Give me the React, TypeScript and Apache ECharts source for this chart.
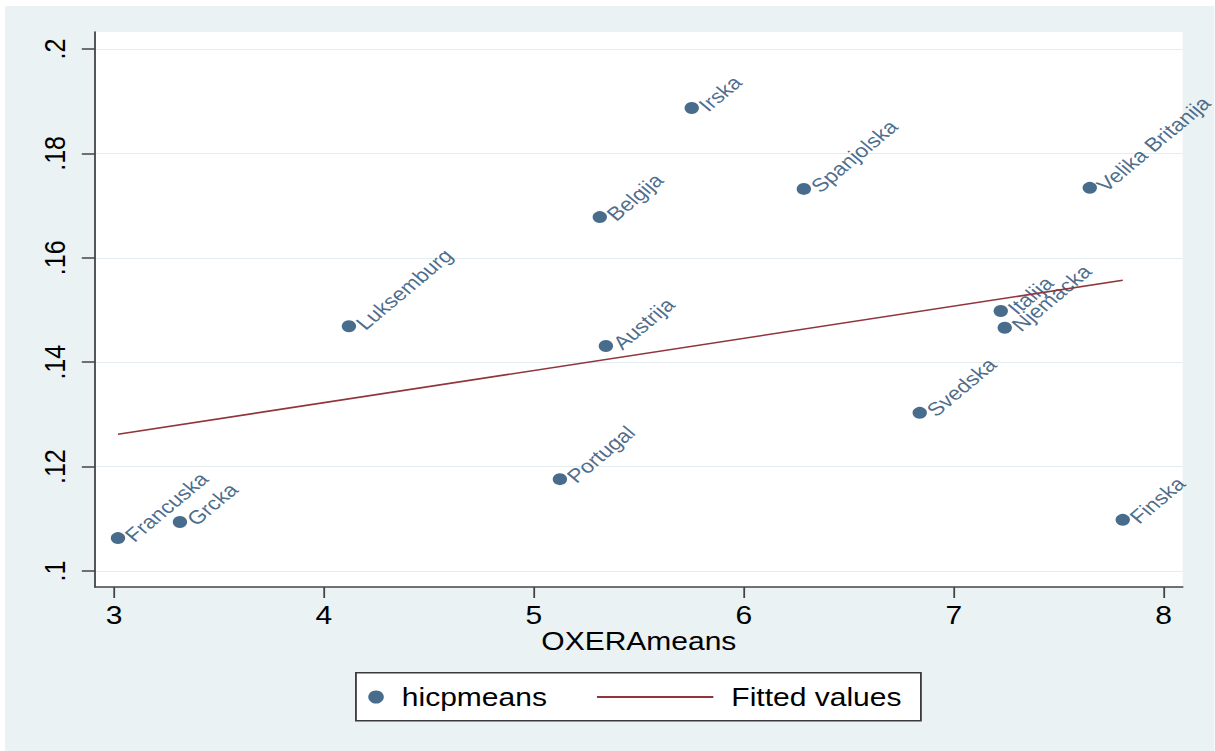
import React, { useEffect, useRef } from "react";
import * as echarts from "echarts";

const countries = [
  "Francuska", "Grcka", "Luksemburg", "Portugal", "Belgija", "Austrija", "Irska",
  "Spanjolska", "Svedska", "Italija", "Njemacka", "Velika Britanija", "Finska",
];
const oxeraMeans = [3.019, 3.314, 4.119, 5.124, 5.314, 5.343, 5.752, 6.286, 6.838, 7.224, 7.243, 7.648, 7.805];
const hicpMeans = [0.1063, 0.1094, 0.1469, 0.1176, 0.1678, 0.1431, 0.1887, 0.1732, 0.1303, 0.1498, 0.1466, 0.1734, 0.1098];
const fittedX = [3.019, 7.805];
const fittedY = [0.1262, 0.1557];
const xTicks = [3, 4, 5, 6, 7, 8];
const yTicks = [0.1, 0.12, 0.14, 0.16, 0.18, 0.2];

const STRETCH = 1.2;
const CW = 1210 / STRETCH;
const CH = 745;
const FONT = "'Liberation Sans', Arimo, Arial, sans-serif";
const NAVY = "#1A476F";
const MAROON = "#90353B";

export default function App() {
  const ref = useRef<HTMLDivElement>(null);
  useEffect(() => {
    if (!ref.current) return;
    const chart = echarts.init(ref.current, null, { renderer: "svg" });
    const scatterData = countries.map((c, i) => ({ name: c, value: [oxeraMeans[i], hicpMeans[i]] }));
    const lineData = fittedX.map((x, i) => [x, fittedY[i]]);
    chart.setOption({
      animation: false,
      backgroundColor: "#EAF2F3",
      textStyle: { fontFamily: FONT },
      grid: {
        left: 75, right: 26.6, top: 26, bottom: 164,
        show: true, backgroundColor: "#ffffff", borderWidth: 0,
        containLabel: false, outerBoundsMode: "none",
      },
      xAxis: {
        type: "value", min: 2.9095, max: 8.0905,
        name: "OXERAmeans", nameLocation: "middle", nameGap: 42, nameMoveOverlap: false,
        nameTextStyle: { fontSize: 25, color: "#000", fontFamily: FONT },
        axisLine: { show: true, onZero: false, lineStyle: { color: "#444", width: 1.5 } },
        axisTick: { show: true, length: 11, customValues: xTicks, lineStyle: { color: "#444", width: 1.5 } },
        axisLabel: { customValues: xTicks, fontSize: 25, color: "#000", margin: 16, fontFamily: FONT },
        splitLine: { show: false },
      },
      yAxis: {
        type: "value", min: 0.096935, max: 0.20326,
        axisLine: { show: true, onZero: false, lineStyle: { color: "#444", width: 1.5 } },
        axisTick: { show: true, length: 11, customValues: yTicks, lineStyle: { color: "#444", width: 1.5 } },
        axisLabel: {
          customValues: yTicks, fontSize: 25, color: "#000", margin: 21, rotate: 90, fontFamily: FONT,
          formatter: (v: number) => String(v).replace(/^0/, ""),
        },
        splitLine: { show: true, lineStyle: { color: "#E3EDEF", width: 1.2 } },
      },
      legend: [
        {
          data: ["hicpmeans"], left: 302.7, top: 678.5, padding: 0,
          icon: "circle", itemWidth: 13, itemHeight: 13,
          textStyle: { fontSize: 25, color: "#000", fontFamily: FONT, padding: [0, 0, 0, 10] },
          selectedMode: false,
        },
        {
          data: [{ name: "Fitted values", icon: "rect" }], left: 493.3, top: 678.5, padding: 0,
          itemWidth: 97, itemHeight: 2,
          itemStyle: { color: MAROON },
          textStyle: { fontSize: 25, color: "#000", fontFamily: FONT, padding: [0, 0, 0, 10] },
          selectedMode: false,
        },
      ],
      graphic: [
        {
          type: "rect", z: -1, left: 291.7, top: 666,
          shape: { width: 470.8, height: 48 },
          style: { fill: "#ffffff", stroke: "#3a3a3a", lineWidth: 1.5 },
        },
      ],
      series: [
        {
          name: "hicpmeans", type: "scatter", data: scatterData,
          symbol: "circle", symbolSize: 12,
          itemStyle: { color: NAVY },
          label: {
            show: true, position: "right", distance: 3, rotate: 45,
            formatter: (p: any) => p.name,
            fontSize: 19, color: NAVY, fontFamily: FONT,
          },
        },
        {
          name: "Fitted values", type: "line", data: lineData,
          symbol: "none", lineStyle: { color: MAROON, width: 1.6 },
          itemStyle: { color: MAROON },
        },
      ],
    });
    return () => chart.dispose();
  }, []);
  return (
    <div style={{ position: "fixed", left: 0, top: 0, width: 1215, height: 751, overflow: "hidden", background: "#ffffff" }}>
      <div
        ref={ref}
        style={{
          position: "absolute", left: 5, top: 6, width: CW, height: CH,
          transform: `scaleX(${STRETCH})`, transformOrigin: "0 0",
        }}
      />
    </div>
  );
}
